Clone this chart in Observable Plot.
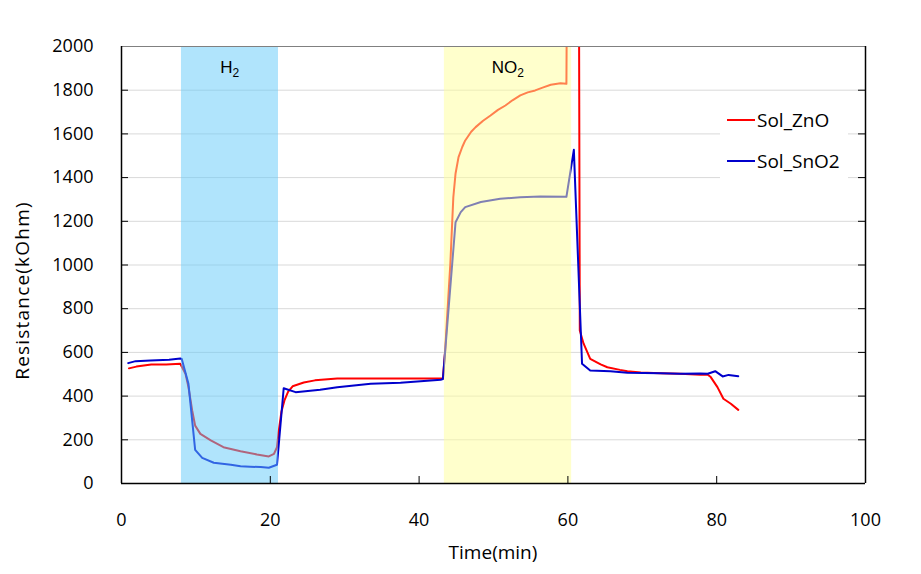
<!DOCTYPE html>
<html>
<head>
<meta charset="utf-8">
<script src="https://cdn.jsdelivr.net/npm/d3@7"></script>
<script src="https://cdn.jsdelivr.net/npm/@observablehq/plot@0.6"></script>
<style>
  html, body { margin: 0; padding: 0; background: #fff; }
  #chart { width: 921px; height: 574px; }
</style>
</head>
<body>
<div id="chart"></div>
<script>
// ---- data ----
const znoTime = [1, 2, 4, 6, 7.9, 8.6, 9.0, 9.5, 9.9, 10.6, 12, 13.7, 16, 18.2, 19.8, 20.5, 20.9, 21.1, 21.5, 21.9, 22.4, 23, 24.5, 26, 29, 34, 38, 42, 43.2, 43.5, 44.2, 44.6, 44.9, 45.3, 45.8, 46.2, 47, 47.6, 48.6, 49.6, 50.6, 51.6, 52.6, 53.6, 54.6, 55.6, 56.6, 57.7, 59, 59.8, 59.95, 61.45, 61.6, 62.1, 63, 64.4, 65.3, 67, 68, 69.8, 72.4, 75.1, 77.8, 78.8, 79.2, 80.1, 80.9, 81.9, 82.9];
const znoValue = [527, 535, 545, 545, 548, 502, 441, 334, 265, 227, 197, 166, 148, 133, 124, 136, 166, 230, 330, 380, 420, 445, 462, 472, 480, 481, 481, 481, 480, 608, 1007, 1310, 1419, 1494, 1540, 1570, 1610, 1631, 1660, 1684, 1710, 1730, 1755, 1776, 1790, 1799, 1812, 1825, 1832, 1829, 2800, 2800, 700, 641, 570, 545, 532, 520, 514, 508, 505, 502, 498, 498, 487, 441, 388, 365, 337];

const snoTime = [0.9, 1.9, 3.9, 6.4, 7.9, 8.1, 9.0, 9.9, 10.85, 12.4, 14.7, 16, 17.3, 18.7, 19.8, 20.9, 21.8, 23.4, 26.7, 29, 33.5, 37.5, 42.9, 43.2, 44.9, 45.6, 46.2, 48.3, 50.9, 53.6, 56.3, 59.8, 60.8, 61.9, 63, 65.7, 68, 72.4, 75.1, 77.8, 78.8, 79.8, 80.8, 81.6, 82.9];
const snoValue = [551, 560, 563, 566, 572, 570, 456, 154, 117, 95, 86, 79, 77, 75, 72, 86, 436, 418, 429, 441, 456, 461, 475, 478, 1196, 1242, 1265, 1288, 1303, 1310, 1314, 1312, 1527, 548, 517, 514, 507, 505, 502, 503, 502, 514, 490, 497, 491];

const seriesNames = ["Sol_ZnO", "Sol_SnO2"];
const seriesColors = ["#ff0000", "#0000cc"];

const gasNames = ["H", "NO"];
const gasStart = [8.06, 43.4];
const gasEnd = [21.1, 60.5];
const gasFill = ["#61c9f9", "#ffff99"];
const gasLabelX = [14.6, 52.0];

const xTicks = [0, 20, 40, 60, 80, 100];
const yTicks = [0, 200, 400, 600, 800, 1000, 1200, 1400, 1600, 1800, 2000];

// ---- tables ----
const zno = znoTime.map((t, i) => ({t, v: znoValue[i]}));
const sno = snoTime.map((t, i) => ({t, v: snoValue[i]}));
const gases = gasNames.map((g, i) => ({g, x1: gasStart[i], x2: gasEnd[i], fill: gasFill[i], lx: gasLabelX[i]}));

const W = 921, H = 574;
const mL = 121, mR = 56, mT = 46, mB = 91;
const pw = W - mL - mR, ph = H - mT - mB;
const FONT = '"Open Sans", sans-serif';

const chart = Plot.plot({
  width: W, height: H,
  marginLeft: mL, marginRight: mR, marginTop: mT, marginBottom: mB,
  style: {fontSize: "18px", fontFamily: FONT, color: "#000", background: "#fff"},
  x: {domain: [0, 100], ticks: xTicks},
  y: {domain: [0, 2000], ticks: yTicks},
  marks: [
    Plot.ruleY(yTicks.slice(1, -1), {stroke: "#d9d9d9", strokeWidth: 1}),
    Plot.line(zno, {x: "t", y: "v", stroke: seriesColors[0], strokeWidth: 2, clip: true}),
    Plot.line(sno, {x: "t", y: "v", stroke: seriesColors[1], strokeWidth: 2, clip: true}),
    Plot.rectX(gases, {x1: "x1", x2: "x2", y1: 0, y2: 2000, fill: "fill", fillOpacity: 0.5}),
    Plot.ruleY([2000], {stroke: "#808080", strokeWidth: 1}),
    Plot.ruleY([0], {stroke: "#000", strokeWidth: 1.5}),
    Plot.ruleX([0, 100], {stroke: "#000", strokeWidth: 1.5}),
    Plot.tickY(yTicks.slice(1, -1), {y: d => d, stroke: "#000", insetRight: pw - 7}),
    Plot.tickY(yTicks.slice(1, -1), {y: d => d, stroke: "#000", insetLeft: pw - 7}),
    Plot.tickX(xTicks.slice(1, -1), {x: d => d, stroke: "#000", insetTop: ph - 7}),
    Plot.axisX(xTicks, {tickSize: 0, tickPadding: 30, label: null, fontSize: 18, tickFormat: d3.format("d")}),
    Plot.axisY(yTicks, {tickSize: 0, tickPadding: 28, label: null, fontSize: 18, tickFormat: d3.format("d")})
  ]
});
document.getElementById("chart").appendChild(chart);

const svg = d3.select(chart);
const sx = chart.scale("x");

// gas labels with subscripts
gases.forEach(d => {
  const t = svg.append("text")
    .attr("x", sx.apply(d.lx)).attr("y", 73)
    .attr("text-anchor", "middle")
    .attr("font-family", '"Liberation Sans", Arial, sans-serif')
    .attr("font-size", 17).attr("fill", "#000");
  t.append("tspan").text(d.g);
  t.append("tspan").attr("font-size", 12).attr("dy", 4).text("2");
});

// axis titles
svg.append("text")
  .attr("x", sx.apply(50)).attr("y", 559)
  .attr("text-anchor", "middle").attr("font-family", FONT).attr("font-size", 19).attr("fill", "#000")
  .text("Time(min)");
svg.append("text")
  .attr("transform", `translate(29,${(mT + H - mB) / 2 + 26}) rotate(-90)`)
  .attr("text-anchor", "middle").attr("font-family", FONT).attr("font-size", 19)
  .attr("letter-spacing", 1.2).attr("fill", "#000")
  .text("Resistance(kOhm)");

// legend
const lg = svg.append("g");
lg.append("rect").attr("x", 720).attr("y", 100).attr("width", 128).attr("height", 86).attr("fill", "#fff");
seriesNames.forEach((n, i) => {
  const yy = 120 + i * 41;
  lg.append("line").attr("x1", 727).attr("x2", 755).attr("y1", yy).attr("y2", yy)
    .attr("stroke", seriesColors[i]).attr("stroke-width", 2);
  lg.append("text").attr("x", 757).attr("y", yy + 7)
    .attr("text-anchor", "start").attr("font-family", FONT)
    .attr("font-size", 19).attr("fill", "#000").text(n);
});
</script>
</body>
</html>
